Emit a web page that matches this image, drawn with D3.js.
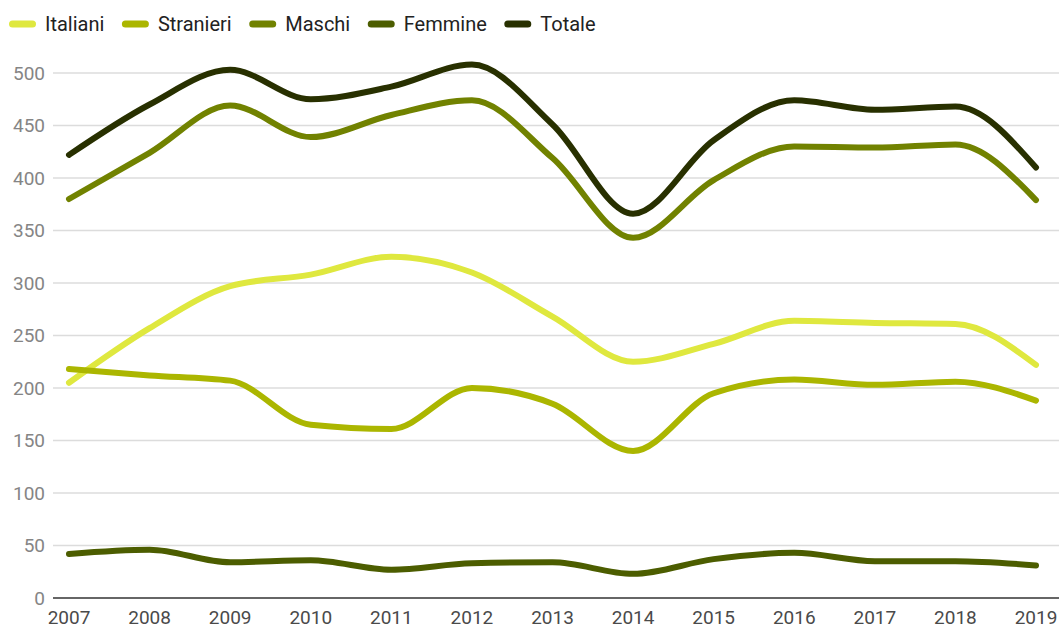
<!DOCTYPE html>
<html>
<head>
<meta charset="utf-8">
<script src="https://cdn.jsdelivr.net/npm/d3@7"></script>
<style>
  html, body { margin: 0; padding: 0; background: #fff; }
  svg { display: block; font-family: Roboto, "Noto Sans", sans-serif; }
</style>
</head>
<body>
<svg id="chart" width="1059" height="628"></svg>
<script>
const years = [2007, 2008, 2009, 2010, 2011, 2012, 2013, 2014, 2015, 2016, 2017, 2018, 2019];
const seriesNames = ["Italiani", "Stranieri", "Maschi", "Femmine", "Totale"];
const italiani  = [205, 257, 297, 308, 325, 310, 268, 225, 242, 264, 262, 261, 222];
const stranieri = [218, 212, 207, 165, 161, 200, 185, 140, 195, 208, 203, 206, 188];
const maschi    = [380, 424, 469, 439, 460, 474, 419, 343, 398, 430, 429, 432, 379];
const femmine   = [42, 46, 34, 36, 27, 33, 34, 23, 37, 43, 35, 35, 31];
const totale    = [422, 470, 503, 475, 487, 508, 451, 366, 436, 474, 465, 468, 410];
const yTicks = [0, 50, 100, 150, 200, 250, 300, 350, 400, 450, 500];
const colors = ["#dfe83f", "#abb600", "#718200", "#4c5d00", "#283000"];

const seriesValues = [italiani, stranieri, maschi, femmine, totale];

const svg = d3.select("#chart");
const x = d3.scaleLinear().domain([2007, 2019]).range([69, 1036]);
const y = d3.scaleLinear().domain([0, 500]).range([598, 73]);

// gridlines
svg.append("g").selectAll("line").data(yTicks.filter(d => d !== 0)).join("line")
  .attr("x1", 53).attr("x2", 1059)
  .attr("y1", d => y(d)).attr("y2", d => y(d))
  .attr("stroke", "#dcdcdc").attr("stroke-width", 1.5);

// y labels
svg.append("g").selectAll("text").data(yTicks).join("text")
  .attr("x", 45).attr("y", d => y(d)).attr("dy", "0.35em")
  .attr("text-anchor", "end").attr("font-size", 19).attr("fill", "#858585")
  .text(d => d);

// x labels
svg.append("g").selectAll("text").data(years).join("text")
  .attr("x", d => x(d)).attr("y", 624)
  .attr("text-anchor", "middle").attr("font-size", 19).attr("fill", "#4a4a4a")
  .text(d => d);

// lines
const line = d3.line().x((d, i) => x(years[i])).y(d => y(d)).curve(d3.curveMonotoneX);
svg.append("g").selectAll("path").data(seriesValues).join("path")
  .attr("d", d => line(d))
  .attr("fill", "none")
  .attr("stroke", (d, i) => colors[i])
  .attr("stroke-width", 6)
  .attr("stroke-linecap", "round")
  .attr("stroke-linejoin", "round");

// baseline
svg.append("line").attr("x1", 53).attr("x2", 1059).attr("y1", y(0)).attr("y2", y(0))
  .attr("stroke", "#333").attr("stroke-width", 1.5);

// legend
const lg = svg.append("g");
let lx = 9;
seriesNames.forEach((name, i) => {
  lg.append("line").attr("x1", lx + 3.5).attr("x2", lx + 23.5).attr("y1", 24).attr("y2", 24)
    .attr("stroke", colors[i]).attr("stroke-width", 7).attr("stroke-linecap", "round");
  const t = lg.append("text").attr("x", lx + 36).attr("y", 24).attr("dy", "0.35em")
    .attr("font-size", 20).attr("fill", "#222").text(name);
  lx = lx + 36 + t.node().getComputedTextLength() + 17.5;
});
</script>
</body>
</html>
